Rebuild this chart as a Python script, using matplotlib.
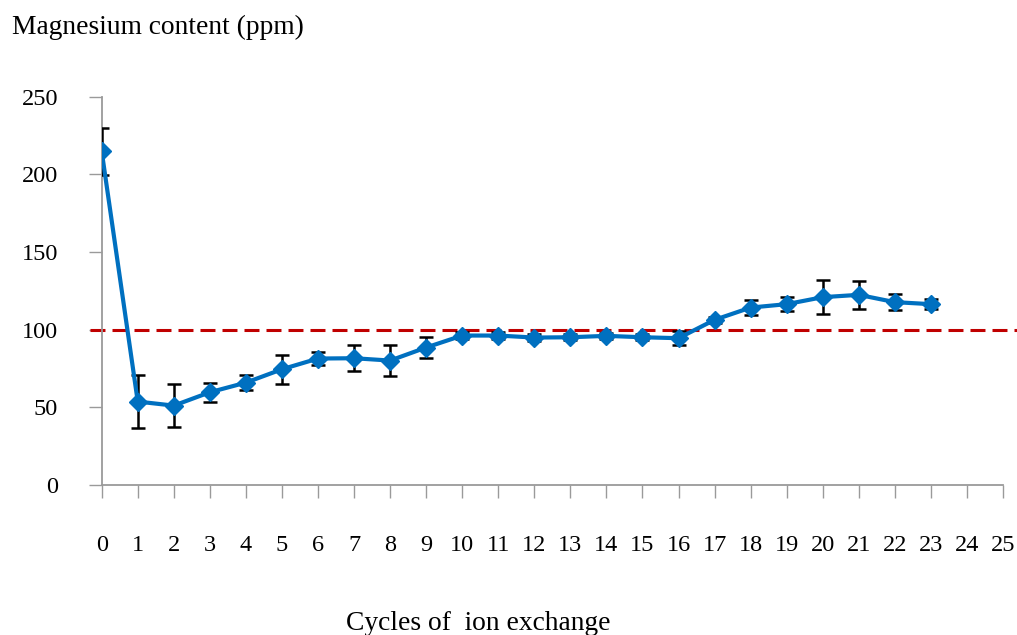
import matplotlib
matplotlib.use("Agg")
import matplotlib.pyplot as plt

cycles = list(range(0, 24))
magnesium = [214.8, 53.7, 51.1, 59.7, 65.9, 74.5, 81.4, 81.6, 80.1, 88.5,
             96.2, 96.2, 94.9, 95.1, 96.0, 95.1, 94.5, 106.3, 114.2, 116.4,
             120.9, 122.4, 117.7, 116.4]
errors = [15, 17, 14, 6, 5, 9.5, 4, 8.5, 10, 7,
          2, 2, 2, 2, 2, 2, 4.5, 2, 5, 4.3,
          11, 9, 5, 3]
x_ticks = list(range(0, 26))
y_ticks = [0, 50, 100, 150, 200, 250]
reference_level = 100

plt.rcParams['font.family'] = ['Liberation Serif', 'DejaVu Serif']

fig = plt.figure(figsize=(10.17, 6.35), dpi=100)
ax = fig.add_axes([0.1, 0.2362, 0.8862, 0.6117])

axis_color = '#9a9a9a'
blue = '#0070C0'

ax.errorbar(cycles, magnesium, yerr=errors, fmt='none', ecolor='black',
            elinewidth=1.8, capsize=5, capthick=1.8, zorder=3)
ax.plot(cycles, magnesium, color=blue, lw=3.0, marker='D', markersize=9.5,
        markerfacecolor=blue, markeredgecolor=blue, zorder=4)

ax.plot([-0.013, 1.016], [reference_level, reference_level],
        transform=ax.get_yaxis_transform(), color='#C00000', lw=2.2,
        dashes=(4.9, 2.3), clip_on=False, zorder=2)

ax.set_xlim(0, 25)
ax.set_ylim(0, 250)
ax.set_xticks(x_ticks)
ax.set_xticklabels([str(t) for t in x_ticks])
ax.set_yticks(y_ticks)

for s in ['top', 'right']:
    ax.spines[s].set_visible(False)
for s in ['left', 'bottom']:
    ax.spines[s].set_color(axis_color)
    ax.spines[s].set_linewidth(1.3)

ax.tick_params(axis='x', direction='out', length=9, width=1.0, color=axis_color,
               pad=27, labelsize=17.5)
ax.tick_params(axis='y', direction='out', length=9.5, width=1.0, color=axis_color,
               pad=22, labelsize=17.5)

fig.text(12 / 1017, 1 - 27 / 635, 'Magnesium content (ppm)', ha='left',
         va='center', fontsize=19.8)
fig.text(478 / 1017, 1 - 624 / 635, 'Cycles of  ion exchange', ha='center',
         va='center', fontsize=19.8)

fig.savefig('out.png', dpi=100)
